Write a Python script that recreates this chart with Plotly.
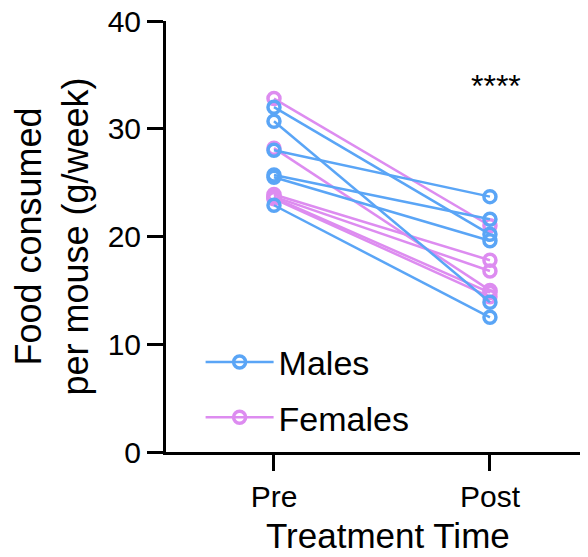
import plotly.graph_objects as go

categories = ["Pre", "Post"]
males_pre = [32.0, 30.7, 28.0, 25.7, 25.5, 22.9]
males_post = [20.2, 13.9, 23.7, 21.6, 19.6, 12.5]
females_pre = [32.8, 28.2, 23.9, 23.7, 23.6, 23.5]
females_post = [21.0, 15.0, 17.8, 16.8, 14.8, 14.4]
y_ticks = [0, 10, 20, 30, 40]

BLUE = "#5AA5F6"
PINK = "#DD8CF0"
FONT = "Liberation Sans, Arial, sans-serif"

fig = go.Figure()

def add_group(pre, post, name, color, rank):
    for i, (a, b) in enumerate(zip(pre, post)):
        fig.add_trace(go.Scatter(
            x=[0, 1], y=[a, b], mode="lines+markers", name=name,
            legendgroup=name, showlegend=(i == 0), legendrank=rank,
            line=dict(color=color, width=2.5),
            marker=dict(symbol="circle-open", size=12, color=color, line=dict(width=3.5, color=color)),
        ))

add_group(females_pre, females_post, "Females", PINK, 2)
add_group(males_pre, males_post, "Males", BLUE, 1)

fig.add_annotation(x=1.03, y=34.0, xref="x", yref="y", text="****", showarrow=False,
                   font=dict(family=FONT, size=32, color="black"))
fig.add_annotation(x=0.526, y=-0.193, xref="paper", yref="paper", text="Treatment Time",
                   showarrow=False, xanchor="center", yanchor="middle",
                   font=dict(family=FONT, size=35, color="black"))

fig.update_layout(
    width=580, height=549,
    margin=dict(l=158, r=0, t=13, b=105),
    plot_bgcolor="white", paper_bgcolor="white",
    font=dict(family=FONT, size=30, color="black"),
    showlegend=True,
    legend=dict(x=0.082, y=0.275, xanchor="left", yanchor="top", bgcolor="rgba(0,0,0,0)",
                traceorder="grouped", font=dict(size=34), itemwidth=68, tracegroupgap=8),
    xaxis=dict(range=[-0.5, 1.454], tickvals=[0, 1], ticktext=categories, automargin=False,
               showline=True, linecolor="black", linewidth=3, ticks="outside",
               ticklen=16, tickwidth=3, tickcolor="black", showgrid=False, zeroline=False,
               tickfont=dict(size=30)),
    yaxis=dict(range=[0, 40], tickvals=y_ticks, showline=True, linecolor="black", linewidth=3,
               ticks="outside", ticklen=16, tickwidth=3, tickcolor="black", showgrid=False,
               zeroline=False, tickfont=dict(size=30), ticklabeloverflow="allow", automargin=False,
               title=dict(text="Food consumed<br>per mouse (g/week)", font=dict(size=36), standoff=12)),
)

fig.write_html("out.html")
